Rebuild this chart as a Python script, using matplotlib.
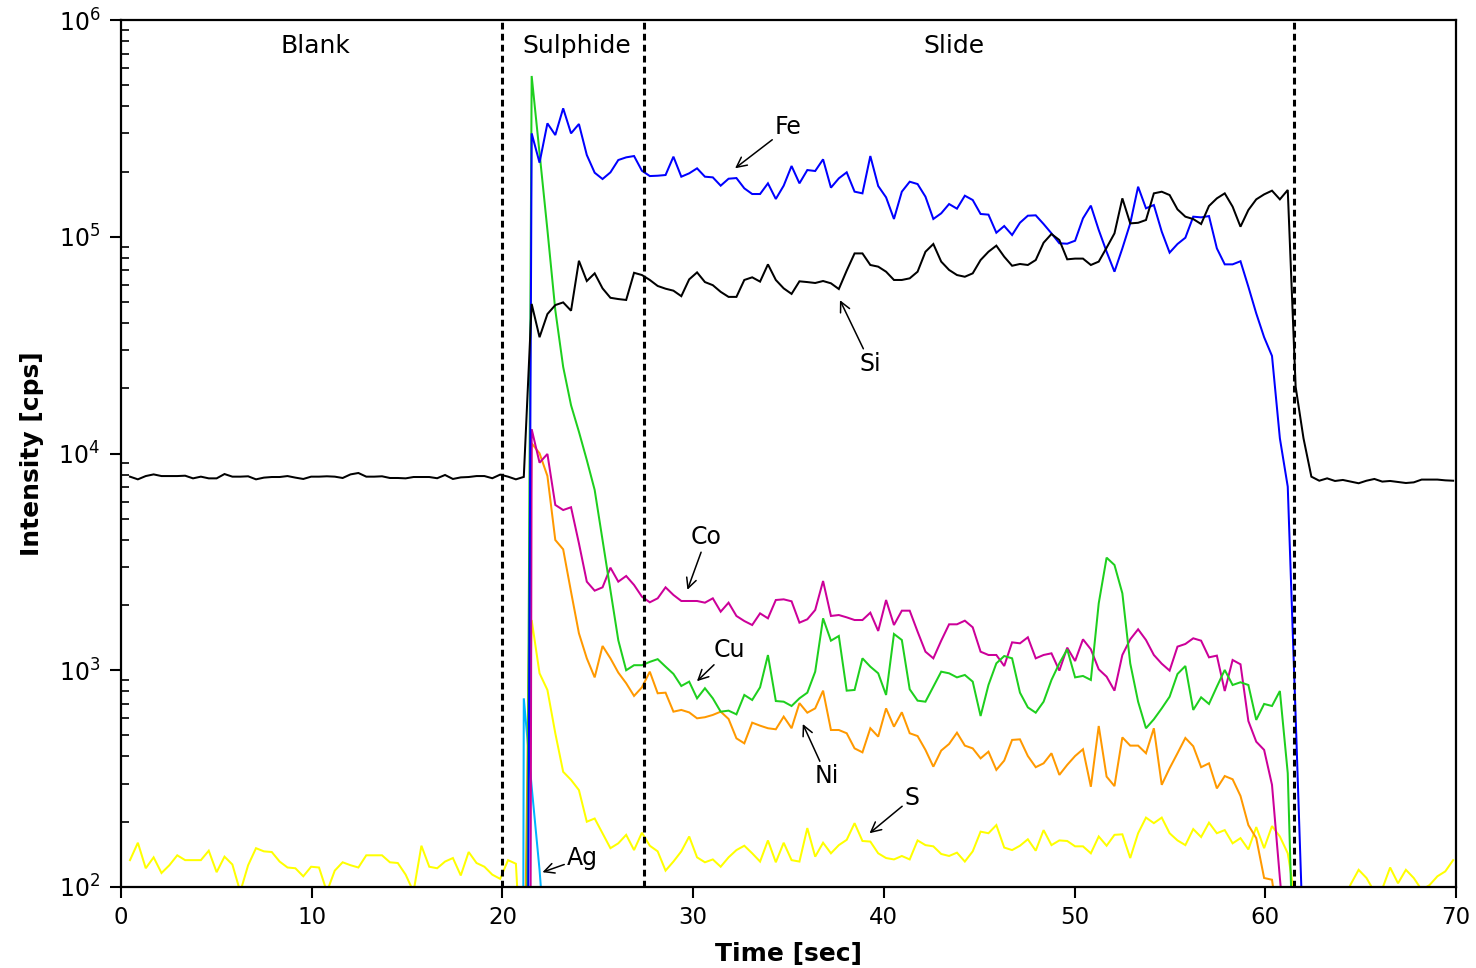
import numpy as np
import matplotlib
matplotlib.use("Agg")
import matplotlib.pyplot as plt
from matplotlib.ticker import LogLocator, MultipleLocator, NullLocator, LogFormatterMathtext

nan = np.nan
N_SWEEPS = 169
SWEEP_S = 0.413
T_START = 0.47
time = T_START + SWEEP_S * np.arange(N_SWEEPS)

si = [7820, 7600, 7870, 8010, 7870, 7870, 7870, 7900, 7680, 7820,
      7680, 7680, 8040, 7820, 7820, 7850, 7600, 7740, 7790, 7790,
      7870, 7740, 7630, 7820, 7820, 7850, 7820, 7710, 8010, 8130,
      7820, 7820, 7850, 7710, 7710, 7680, 7790, 7790, 7790, 7690,
      7960, 7630, 7760, 7790, 7870, 7870, 7690, 7990, 7820, 7600,
      7800, 49000, 34400, 44000, 48400, 49800, 45600, 77500, 62500, 67800,
      57800, 52300, 51600, 51100, 68200, 66600, 63200, 59300, 57600, 56400,
      53200, 63600, 68500, 61800, 59800, 55700, 52800, 52800, 63200, 65000,
      62100, 74600, 63200, 57800, 54500, 62300, 61800, 61200, 62500, 61000,
      57400, 69800, 83800, 83800, 74100, 72800, 69000, 63200, 63200, 64300,
      69000, 85300, 92600, 76800, 70300, 66600, 65400, 67800, 78100, 85300,
      91000, 80900, 73500, 74900, 74100, 78100, 93900, 103000, 96600, 78700,
      79300, 79300, 74100, 76800, 89000, 103700, 150400, 115300, 116000, 119500,
      158600, 161400, 155800, 133800, 123800, 120700, 114500, 138700, 150400, 158600,
      137700, 111300, 132900, 148800, 156900, 163200, 148800, 164400, 20340, 11750,
      7820, 7490, 7680, 7470, 7550, 7420, 7290, 7490, 7630, 7420,
      7470, 7390, 7310, 7360, 7580, 7580, 7580, 7520, 7490]

fe = [nan] * 50 + [0.0025,
      300000, 219700, 333700, 294700, 391300, 300000, 331300, 238400, 197500, 184700,
      198200, 226000, 232500, 235800, 201700, 190600, 191300, 192700, 234200, 189300,
      196200, 206900, 189300, 188000, 172100, 185300, 186600, 167300, 157500, 157500,
      176400, 149400, 172100, 212100, 176400, 203200, 201100, 227700, 168500, 186000,
      198300, 161500, 158600, 235800, 171500, 152000, 120800, 161500, 179500, 175100,
      153100, 120800, 128300, 141600, 134800, 154700, 147800, 127400, 126500, 104400,
      112100, 101900, 116100, 125100, 125600, 114500, 103700, 93300, 92900, 95900,
      121600, 139200, 107500, 85300, 69000, 88400, 115300, 170200, 135300, 140100,
      105600, 84500, 92600, 99000, 123800, 122900, 124600, 88400, 74600, 74600,
      77100, 58800, 44300, 34400, 28200, 11750, 7030,
      615, 50] + [nan] * 19

cu = [nan] * 50 + [0.1,
      552000, 242600, 107500, 45900, 25100, 16700, 12600, 9330, 6790, 3990,
      2345, 1375, 1000, 1055, 1055, 1093, 1125, 1039, 962, 846,
      886, 742, 826, 742, 644, 651, 626, 769, 729, 834,
      1175, 721, 716, 684, 742, 788, 985, 1736, 1369, 1439,
      805, 811, 1135, 1039, 968, 769, 1470, 1379, 817, 724,
      716, 840, 985, 968, 927, 951, 886, 615, 855, 1076,
      1163, 1135, 788, 674, 637, 716, 902, 1076, 1249, 927,
      941, 902, 2036, 3307, 3059, 2264, 1076, 716, 540, 594,
      667, 755, 961, 1046, 656, 750, 699, 840, 1003, 855,
      880, 855, 590, 699, 684, 802, 335, 19] + [nan] * 20

co = [nan] * 50 + [1e-12,
      12950, 9070, 9950, 5790, 5485, 5650, 3852, 2563, 2329, 2413,
      2973, 2563, 2722, 2474, 2185, 2058, 2147, 2413, 2225, 2087,
      2087, 2087, 2050, 2147, 1863, 2050, 1780, 1687, 1617, 1830,
      1736, 2109, 2124, 2080, 1658, 1718, 1897, 2581, 1780, 1798,
      1754, 1705, 1705, 1843, 1518, 2109, 1617, 1883, 1883, 1507,
      1218, 1135, 1369, 1629, 1629, 1693, 1578, 1218, 1176, 1176,
      1046, 1345, 1331, 1419, 1135, 1176, 1197, 996, 1271, 1103,
      1389, 1249, 1010, 934, 805, 1176, 1389, 1545, 1379, 1176,
      1072, 996, 1285, 1322, 1404, 1369, 1147, 1168, 802, 1115,
      1065, 583, 468, 429, 296, 110, 44] + [nan] * 21

ni = [nan] * 50 + [20,
      11150, 10020, 7875, 3990, 3614, 2300, 1481, 1135, 927, 1294,
      1135, 975, 871, 761, 834, 985, 783, 788, 644, 656,
      639, 600, 607, 622, 644, 596, 485, 460, 573, 555,
      540, 534, 611, 540, 705, 637, 667, 805, 530, 530,
      512, 436, 418, 540, 494, 667, 549, 640, 512, 497,
      429, 359, 426, 457, 515, 449, 436, 392, 421, 347,
      383, 477, 480, 402, 357, 372, 414, 329, 366, 402,
      432, 290, 553, 323, 292, 490, 449, 449, 414, 540,
      296, 353, 414, 487, 446, 357, 372, 285, 325, 314,
      263, 193, 168, 110, 108, 60] + [nan] * 22

s = [133, 160, 122, 137, 116, 126, 140, 133, 133, 133,
     147, 117, 138, 127, 95, 126, 151, 146, 145, 131,
     123, 122, 112, 124, 123, 95, 119, 130, 126, 123,
     140, 140, 140, 130, 129, 114, 95, 155, 124, 122,
     131, 136, 113, 145, 129, 124, 114, 109, 133, 128,
     27, 1705, 968, 811, 512, 340, 312, 280, 200, 207,
     177, 151, 159, 174, 148, 178, 155, 146, 119, 131,
     146, 171, 137, 130, 134, 124, 137, 148, 155, 143,
     131, 164, 130, 160, 133, 131, 187, 138, 160, 143,
     156, 165, 197, 163, 162, 143, 136, 134, 139, 134,
     164, 156, 154, 142, 139, 144, 131, 146, 180, 177,
     193, 152, 148, 155, 166, 147, 183, 156, 164, 163,
     154, 154, 143, 171, 155, 174, 175, 136, 177, 209,
     197, 209, 177, 164, 156, 185, 170, 198, 177, 183,
     159, 168, 149, 189, 151, 191, 171, 143, 85, 60,
     60, 60, 60, 60, 85, 103, 120, 110, 95, 98,
     123, 104, 120, 110, 97, 102, 112, 118, 133]

ag = [nan] * 49 + [1e-12, 742, 290, 120, 40] + [nan] * 115

series = [
    ("S", s, "#ffff00"),
    ("Ag", ag, "#00b4ff"),
    ("Ni", ni, "#ff9900"),
    ("Co", co, "#cc0099"),
    ("Cu", cu, "#1ecf1e"),
    ("Fe", fe, "#0000ff"),
    ("Si", si, "#000000"),
]

boundaries = [20.0, 27.4, 61.5]
regions = [("Blank", 10.2), ("Sulphide", 23.9), ("Slide", 43.7)]

labels = [  # (text, text_x, text_y, tip_x, tip_y)
    ("Fe", 35.0, 3.2e5, 32.2, 2.07e5),
    ("Si", 39.3, 2.6e4, 37.7, 5.1e4),
    ("Co", 30.7, 4.1e3, 29.7, 2.35e3),
    ("Cu", 31.9, 1.24e3, 30.2, 8.9e2),
    ("Ni", 37.0, 3.25e2, 35.75, 5.65e2),
    ("S", 41.5, 2.58e2, 39.25, 1.77e2),
    ("Ag", 24.2, 1.36e2, 22.1, 1.17e2),
]

fig = plt.figure(figsize=(14.76, 9.68), dpi=100)
ax = fig.add_axes([0.082, 0.0837, 0.9044, 0.8956])

for name, vals, col in series:
    ax.plot(time, vals, color=col, lw=1.45, solid_joinstyle="miter")

for b in boundaries:
    ax.axvline(b, color="black", lw=2.2, linestyle=(0, (2.2, 1.4)))

ax.set_yscale("log")
ax.set_xlim(0, 70)
ax.set_ylim(1e2, 1e6)

for txt, xc in regions:
    ax.text(xc, 7.6e5, txt, ha="center", va="center", fontsize=18)

for txt, tx, ty, px, py in labels:
    ax.annotate(txt, xy=(px, py), xytext=(tx, ty), ha="center", va="center",
                fontsize=17,
                arrowprops=dict(arrowstyle="->", color="black", lw=1.1,
                                shrinkA=0, shrinkB=0, mutation_scale=18))

ax.xaxis.set_major_locator(MultipleLocator(10))
ax.xaxis.set_minor_locator(NullLocator())
ax.yaxis.set_major_locator(LogLocator(base=10, numticks=10))
ax.yaxis.set_minor_locator(LogLocator(base=10, subs=np.arange(2, 10), numticks=10))
ax.yaxis.set_major_formatter(LogFormatterMathtext())

ax.tick_params(axis="x", which="major", direction="out", length=8, width=1.5,
               labelsize=16.5, top=False, pad=6)
ax.tick_params(axis="y", which="major", direction="out", length=8, width=1.5,
               labelsize=17, right=False, pad=7)
ax.tick_params(axis="y", which="minor", direction="in", length=6, width=1.2, right=False)

for sp in ax.spines.values():
    sp.set_linewidth(1.6)

ax.set_xlabel("Time [sec]", fontsize=18, fontweight="bold", labelpad=9)
ax.set_ylabel("Intensity [cps]", fontsize=18, fontweight="bold", labelpad=10)

fig.savefig("out.png", dpi=100)
